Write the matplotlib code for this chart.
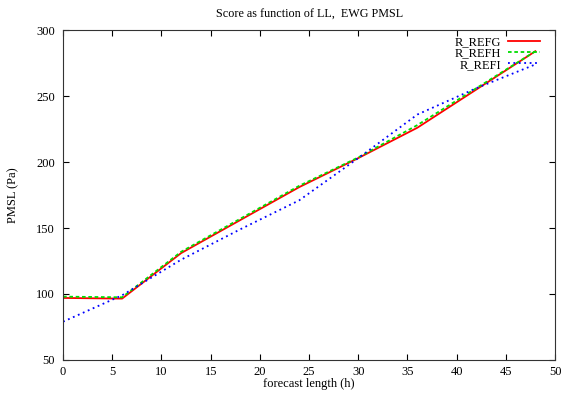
import matplotlib
matplotlib.use("Agg")
import matplotlib.pyplot as plt

plt.rcParams['font.family'] = ['Liberation Serif', 'DejaVu Serif']

# forecast lengths (h)
ll = [0, 6, 12, 18, 24, 30, 36, 42, 48]

# PMSL scores (Pa)
r_refg = [97, 96.5, 131, 156, 181, 203, 226, 255, 284]
r_refh = [98, 97.5, 132, 157, 182, 203.5, 228, 256, 284]
r_refi = [79, 99, 126, 149, 171, 203, 236, 256, 274]

fig = plt.figure(figsize=(5.63, 3.96), dpi=100)
ax = fig.add_axes([0.112, 0.091, 0.874, 0.833])

ax.plot(ll, r_refg, color='red', lw=1.3, label='R_REFG')
ax.plot(ll, r_refh, color='#00dd00', lw=1.3, ls=(0, (2, 1.5)), label='R_REFH')
ax.plot(ll, r_refi, color='blue', lw=1.3, ls=(0, (1, 2)), label='R_REFI')

ax.set_xlim(0, 50)
ax.set_ylim(50, 300)
ax.set_xticks(range(0, 51, 5))
ax.set_yticks(range(50, 301, 50))
ax.tick_params(axis='y', direction='in', right=True, labelsize=9, length=4, pad=6)
ax.tick_params(axis='x', direction='in', top=True, labelsize=9, length=4, pad=4)
ax.set_xlabel('forecast length (h)', fontsize=9, labelpad=0)
ax.set_ylabel('PMSL (Pa)', fontsize=9, labelpad=12)
ax.set_title('Score as function of LL,  EWG PMSL', fontsize=8.7, pad=9)

for s in ax.spines.values():
    s.set_color('#333333')

ax.legend(loc='upper right', bbox_to_anchor=(1 - 15 / 492, 1 - 6 / 330),
          markerfirst=False, frameon=False, fontsize=9, borderpad=0, borderaxespad=0,
          handlelength=2.6, labelspacing=-0.05, handletextpad=0.5)

fig.savefig('out.png', dpi=100)
